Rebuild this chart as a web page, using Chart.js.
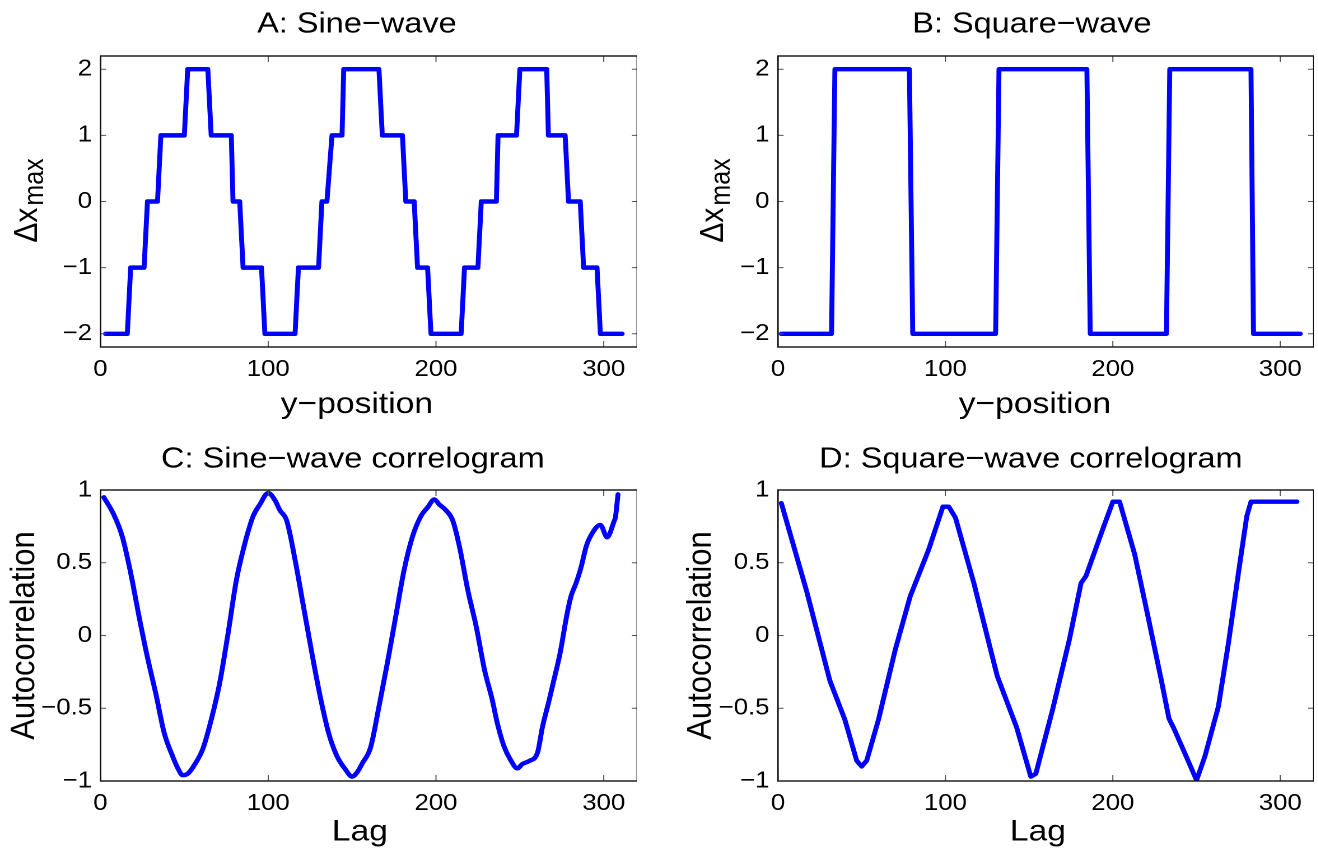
<!DOCTYPE html>
<html>
<head>
<meta charset="utf-8">
<title>Sine / square wave correlograms</title>
<script src="https://cdn.jsdelivr.net/npm/chart.js@4"></script>
<style>
  html, body { margin: 0; padding: 0; background: #fff; }
  #wrap { position: relative; width: 1318px; height: 848px; overflow: hidden; }
  #wrap canvas { position: absolute; transform-origin: 0 0; }
</style>
</head>
<body>
<div id="wrap">
  <canvas id="panelA"></canvas>
  <canvas id="panelB"></canvas>
  <canvas id="panelC"></canvas>
  <canvas id="panelD"></canvas>
</div>
<script>
// ---- data ----
const xTicks = [0, 100, 200, 300];
const waveTicks = [-2, -1, 0, 1, 2];
const corrTicks = [-1, -0.5, 0, 0.5, 1];

// A: stepped sine (breakpoints of the staircase)
const sinePos = [3, 16, 18, 26, 28, 34, 36, 50, 52, 64, 66, 78, 79, 83, 85, 96, 98, 116,
  118, 130, 132, 135, 138, 144, 145, 166, 168, 180, 182, 187, 189, 195, 197, 215,
  217, 225, 227, 236, 237, 248, 250, 266, 267, 277, 279, 286, 288, 296, 298, 311];
const sineDx = [-2, -2, -1, -1, 0, 0, 1, 1, 2, 2, 1, 1, 0, 0, -1, -1, -2, -2,
  -1, -1, 0, 0, 1, 1, 2, 2, 1, 1, 0, 0, -1, -1, -2, -2,
  -1, -1, 0, 0, 1, 1, 2, 2, 1, 1, 0, 0, -1, -1, -2, -2];

// B: square wave
const squarePos = [2, 32, 34, 78.5, 80.5, 130, 132, 184.5, 186.5, 232, 234, 282.5, 284, 312];
const squareDx = [-2, -2, 2, 2, -2, -2, 2, 2, -2, -2, 2, 2, -2, -2];

// C: sine-wave correlogram
const sineLag = [2, 8, 13, 18, 23, 28, 33, 38, 43, 46, 49, 52, 56, 61, 66, 71, 76, 81, 86, 91, 95, 100,
  104, 107, 111, 116, 121, 126, 131, 136, 141, 146, 150, 153, 156, 161, 166, 171, 176, 181, 186, 191, 195, 199,
  202, 206, 210, 214, 219, 224, 229, 233.5, 236.5, 240.5, 244.5, 248.5, 251.5, 255.5, 260.5, 263.5, 267.5,
  270, 274, 278, 280.5, 283.5, 286.5, 289.5, 292, 298, 302, 306, 307, 308.5];
const sineAcf = [0.95, 0.83, 0.68, 0.43, 0.13, -0.15, -0.40, -0.67, -0.83, -0.91, -0.96, -0.95, -0.89, -0.78, -0.58, -0.33, 0.01, 0.38, 0.63, 0.82, 0.90, 0.98,
  0.93, 0.86, 0.79, 0.52, 0.20, -0.12, -0.42, -0.67, -0.83, -0.92, -0.97, -0.94, -0.88, -0.77, -0.49, -0.19, 0.13, 0.45, 0.68, 0.82, 0.88, 0.935,
  0.90, 0.86, 0.79, 0.61, 0.31, 0.06, -0.24, -0.44, -0.60, -0.76, -0.856, -0.913, -0.883, -0.863, -0.806, -0.627, -0.443,
  -0.32, -0.12, 0.14, 0.27, 0.36, 0.47, 0.61, 0.68, 0.76, 0.675, 0.78, 0.816, 0.97];

// D: square-wave correlogram
const squareLag = [2, 17, 31, 40, 47, 50, 53, 60, 70, 79, 90, 98.5, 102, 106, 117, 129, 131, 142.5, 151, 154,
  164, 174, 181, 184, 193, 200, 204, 213, 221, 229, 233.5, 236.5, 243, 250, 255, 263, 269, 275, 280, 282.5, 310];
const squareAcf = [0.91, 0.31, -0.31, -0.58, -0.86, -0.90, -0.86, -0.58, -0.10, 0.27, 0.59, 0.885, 0.885, 0.81, 0.36, -0.19, -0.28, -0.63, -0.97, -0.95,
  -0.51, -0.03, 0.36, 0.41, 0.70, 0.92, 0.92, 0.56, 0.13, -0.31, -0.57, -0.64, -0.81, -0.995, -0.83, -0.49, -0.055, 0.43, 0.82, 0.92, 0.92];

// ---- look ----
const FONT = '"Liberation Sans", Arial, Helvetica, sans-serif';
const STRETCH = 1.12;   // the original figure is a little wider than tall
const BLUE = '#0000ff';

Chart.defaults.font.family = FONT;
Chart.defaults.color = '#000';

const minus = v => String(v).replace('-', '\u2212');

// box + inward tick marks on all four sides
const framePlugin = {
  id: 'frame',
  afterDatasetsDraw(chart) {
    const {ctx, chartArea: a, scales: {x, y}} = chart;
    ctx.save();
    ctx.strokeStyle = '#555';
    ctx.lineWidth = 1;
    ctx.beginPath();
    x.ticks.forEach(t => {
      const px = x.getPixelForValue(t.value);
      ctx.moveTo(px, a.bottom); ctx.lineTo(px, a.bottom - 6);
      ctx.moveTo(px, a.top); ctx.lineTo(px, a.top + 6);
    });
    y.ticks.forEach(t => {
      const py = y.getPixelForValue(t.value);
      ctx.moveTo(a.left, py); ctx.lineTo(a.left + 5, py);
      ctx.moveTo(a.right, py); ctx.lineTo(a.right - 5, py);
    });
    ctx.stroke();
    ctx.strokeStyle = '#111';
    ctx.lineWidth = 1.4;
    ctx.strokeRect(a.left, a.top, a.right - a.left, a.bottom - a.top);
    ctx.restore();
  }
};

// panel title, x label and (rotated, optionally subscripted) y label
const textPlugin = {
  id: 'panelText',
  afterDraw(chart, args, o) {
    const {ctx, chartArea: a} = chart;
    const cx = (a.left + a.right) / 2;
    const cy = (a.top + a.bottom) / 2;
    ctx.save();
    ctx.fillStyle = '#000';
    ctx.textBaseline = 'alphabetic';
    ctx.textAlign = 'center';
    ctx.font = `29px ${FONT}`;
    ctx.fillText(o.title, cx + o.titleShift / STRETCH, o.titleY);
    ctx.font = `30px ${FONT}`;
    ctx.fillText(o.xTitle, cx + o.xTitleShift / STRETCH, o.xTitleY);

    ctx.translate(o.yTitleX, cy);
    ctx.rotate(-Math.PI / 2);
    ctx.textAlign = 'left';
    ctx.font = `${o.yFont}px ${FONT}`;
    const w1 = ctx.measureText(o.yTitle).width;
    let w2 = 0;
    if (o.ySub) {
      ctx.font = `25px ${FONT}`;
      w2 = ctx.measureText(o.ySub).width;
    }
    const x0 = -(w1 + w2) / 2;
    ctx.font = `${o.yFont}px ${FONT}`;
    ctx.fillText(o.yTitle, x0, 0);
    if (o.ySub) {
      ctx.font = `25px ${FONT}`;
      ctx.fillText(o.ySub, x0 + w1 + 2, o.subDrop);
    }
    ctx.restore();
  }
};

function makePanel(id, p) {
  const canvas = document.getElementById(id);
  canvas.width = p.width;
  canvas.height = p.height;
  canvas.style.left = p.left + 'px';
  canvas.style.top = p.top + 'px';
  canvas.style.transform = `scaleX(${STRETCH})`;

  return new Chart(canvas, {
    type: 'line',
    data: {
      datasets: [{
        data: p.xs.map((v, i) => ({x: v, y: p.ys[i]})),
        borderColor: BLUE,
        borderWidth: 4.4,
        borderJoinStyle: 'round',
        borderCapStyle: 'round',
        pointRadius: 0,
        tension: 0,
        cubicInterpolationMode: p.smooth ? 'monotone' : 'default',
        fill: false
      }]
    },
    options: {
      responsive: false,
      animation: false,
      devicePixelRatio: 2,
      layout: {padding: {top: 56, left: 0, right: 0, bottom: 0}},
      plugins: {
        legend: {display: false},
        tooltip: {enabled: false},
        panelText: p.text
      },
      scales: {
        x: {
          type: 'linear',
          min: 0,
          max: 320,
          grid: {display: false, drawTicks: false},
          border: {display: false},
          afterBuildTicks: axis => { axis.ticks = xTicks.map(v => ({value: v})); },
          afterFit: axis => { axis.height = p.height - p.plotBottom; },
          ticks: {font: {size: 23}, padding: 9, maxRotation: 0, callback: minus}
        },
        y: {
          type: 'linear',
          min: p.yMin,
          max: p.yMax,
          grid: {display: false, drawTicks: false},
          border: {display: false},
          afterBuildTicks: axis => { axis.ticks = p.yTicks.map(v => ({value: v})); },
          afterFit: axis => { axis.width = p.axisWidth; },
          ticks: {font: {size: 23}, padding: 7.5, callback: minus}
        }
      }
    },
    plugins: [framePlugin, textPlugin]
  });
}

makePanel('panelA', {
  left: 0, top: 0, width: 569, height: 430, axisWidth: 89.7, plotBottom: 347,
  xs: sinePos, ys: sineDx, yMin: -2.2, yMax: 2.2, yTicks: waveTicks, smooth: false,
  text: {title: 'A: Sine\u2212wave', titleShift: -12, titleY: 32.3,
         xTitle: 'y\u2212position', xTitleShift: -12, xTitleY: 413,
         yTitle: '\u0394x', ySub: 'max', yFont: 30, subDrop: 5.9, yTitleX: 32.8}
});

makePanel('panelB', {
  left: 672, top: 0, width: 573, height: 430, axisWidth: 94.6, plotBottom: 347,
  xs: squarePos, ys: squareDx, yMin: -2.2, yMax: 2.2, yTicks: waveTicks, smooth: false,
  text: {title: 'B: Square\u2212wave', titleShift: -14, titleY: 32.3,
         xTitle: 'y\u2212position', xTitleShift: -11, xTitleY: 413,
         yTitle: '\u0394x', ySub: 'max', yFont: 30, subDrop: 5.9, yTitleX: 45.7}
});

makePanel('panelC', {
  left: 0, top: 434, width: 569, height: 414, axisWidth: 89.7, plotBottom: 347,
  xs: sineLag, ys: sineAcf, yMin: -1, yMax: 1, yTicks: corrTicks, smooth: true,
  text: {title: 'C: Sine\u2212wave correlogram', titleShift: -16, titleY: 33.5,
         xTitle: 'Lag', xTitleShift: -9, xTitleY: 406.7,
         yTitle: 'Autocorrelation', ySub: '', yFont: 31, subDrop: 0, yTitleX: 30.4}
});

makePanel('panelD', {
  left: 672, top: 434, width: 573, height: 414, axisWidth: 94.6, plotBottom: 347,
  xs: squareLag, ys: squareAcf, yMin: -1, yMax: 1, yTicks: corrTicks, smooth: false,
  text: {title: 'D: Square\u2212wave correlogram', titleShift: -15, titleY: 33.5,
         xTitle: 'Lag', xTitleShift: -8, xTitleY: 406.7,
         yTitle: 'Autocorrelation', ySub: '', yFont: 31, subDrop: 0, yTitleX: 34.4}
});
</script>
</body>
</html>
